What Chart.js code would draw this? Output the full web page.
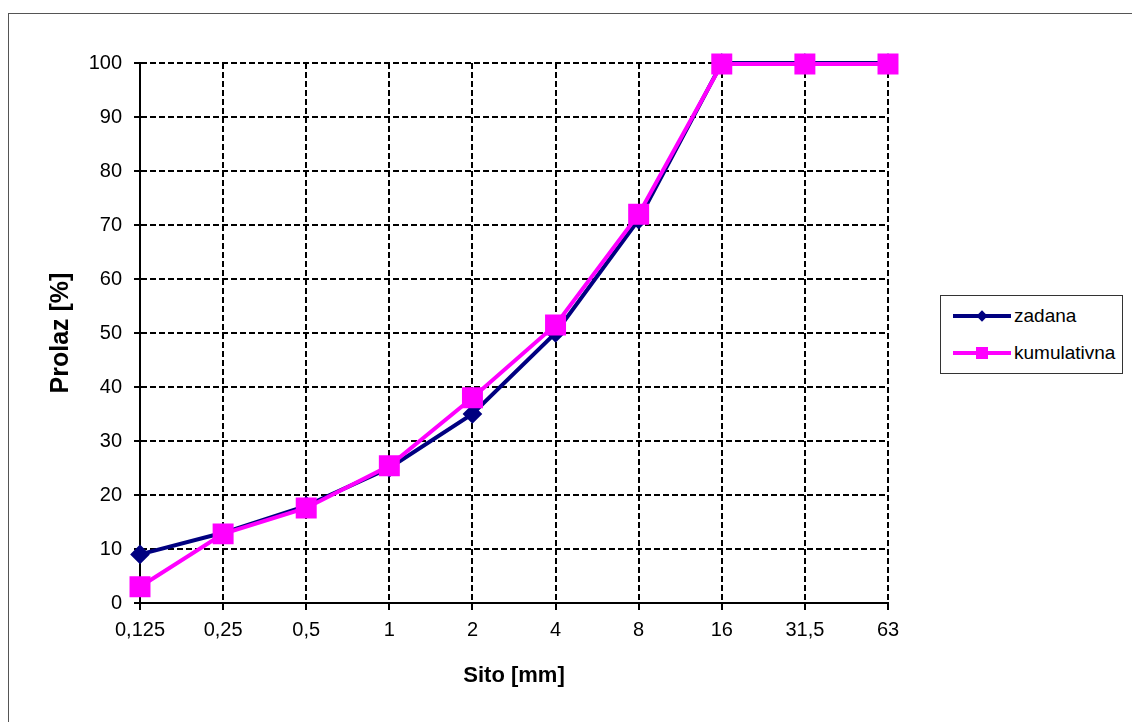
<!DOCTYPE html>
<html>
<head>
<meta charset="utf-8">
<script src="https://cdn.jsdelivr.net/npm/chart.js@4.4.1/dist/chart.umd.min.js"></script>
<style>
  body { margin: 0; background: #fff; font-family: "Liberation Sans", Arial, sans-serif; }
  #wrap { position: relative; width: 1132px; height: 722px; overflow: hidden; }
  #frame { position: absolute; left: 8px; top: 13px; width: 1200px; height: 800px; border: 1px solid #555; }
  #grain { position: absolute; left: 0; top: 0; }
  #legend { position: absolute; left: 940px; top: 295px; width: 181px; height: 77px; border: 1px solid #333; background: #fff; }
  .item { position: absolute; left: 12px; height: 20px; font-size: 19px; line-height: 20px; color: #000; }
  .item .ln { position: absolute; left: 0; top: 8px; width: 58px; height: 4px; }
  .item .tx { position: absolute; left: 61px; top: 0; white-space: nowrap; }
</style>
</head>
<body>
<div id="wrap">
  <div id="frame"></div>
  <canvas id="grain" width="1132" height="722"></canvas>
  <div id="legend"></div>
</div>
<script>
const sieves = ["0,125", "0,25", "0,5", "1", "2", "4", "8", "16", "31,5", "63"];
const zadana = [9, 13, 18, 25, 35, 50, 71, 100, 100, 100];
const kumulativna = [3, 12.8, 17.6, 25.4, 38, 51.5, 72, 99.8, 99.8, 99.8];
const seriesNames = ["zadana", "kumulativna"];
const seriesColors = ["#000080", "#FF00FF"];

const ctx = document.getElementById("grain").getContext("2d");

const grain = new Chart(ctx, {
    type: "line",
    data: {
        labels: sieves,
        datasets: [{
            label: seriesNames[0],
            data: zadana,
            order: 2,
            clip: false,
            borderColor: seriesColors[0],
            backgroundColor: seriesColors[0],
            borderWidth: 4,
            pointStyle: "rectRot",
            pointRadius: 7,
            pointHoverRadius: 7,
            tension: 0
        }, {
            label: seriesNames[1],
            data: kumulativna,
            order: 1,
            clip: false,
            borderColor: seriesColors[1],
            backgroundColor: seriesColors[1],
            borderWidth: 4,
            pointStyle: "rect",
            pointRadius: 12,
            pointHoverRadius: 12,
            tension: 0
        }]
    },
    options: {
        responsive: false,
        animation: false,
        layout: { padding: { left: 0, top: 63, right: 244, bottom: 0 } },
        plugins: { legend: { display: false }, tooltip: { enabled: false } },
        scales: {
            x: {
                offset: false,
                grid: { color: "#000", lineWidth: 2, tickLength: 7, tickBorderDash: [], tickColor: "#000", borderDash: [6, 3] },
                border: { color: "#000", width: 2, dash: [6, 3] },
                ticks: { color: "#000", font: { family: "Liberation Sans", size: 20 }, padding: 8, maxRotation: 0 },
                title: { display: true, text: "Sito [mm]", color: "#000", font: { family: "Liberation Sans", size: 22, weight: "bold" }, padding: { top: 33, bottom: 33 } },
                afterFit: (s) => { s.height = 119; }
            },
            y: {
                min: 0,
                max: 100,
                grid: { color: "#000", lineWidth: 2, tickLength: 6, tickBorderDash: [], tickColor: "#000", borderDash: [6, 3] },
                border: { color: "#000", width: 2, dash: [6, 3] },
                ticks: { stepSize: 10, color: "#000", font: { family: "Liberation Sans", size: 20 }, padding: 12 },
                title: { display: true, text: "Prolaz [%]", color: "#000", font: { family: "Liberation Sans", size: 25, weight: "bold" }, padding: { top: 46, bottom: 46 } },
                afterFit: (s) => { s.width = 140; }
            }
        }
    }
});

// legend box like the spreadsheet one
const legend = document.getElementById("legend");
seriesNames.forEach((name, i) => {
    const row = document.createElement("div");
    row.className = "item";
    row.style.top = (i === 0 ? 10 : 47) + "px";
    const ln = document.createElement("div");
    ln.className = "ln";
    ln.style.background = seriesColors[i];
    const mk = document.createElement("div");
    mk.style.position = "absolute";
    mk.style.background = seriesColors[i];
    if (i === 0) {
        mk.style.left = "25px"; mk.style.top = "6px"; mk.style.width = "8px"; mk.style.height = "8px";
        mk.style.transform = "rotate(45deg)";
    } else {
        mk.style.left = "23px"; mk.style.top = "4px"; mk.style.width = "12px"; mk.style.height = "12px";
    }
    const tx = document.createElement("span");
    tx.className = "tx";
    tx.textContent = name;
    row.appendChild(ln);
    row.appendChild(mk);
    row.appendChild(tx);
    legend.appendChild(row);
});
</script>
</body>
</html>
